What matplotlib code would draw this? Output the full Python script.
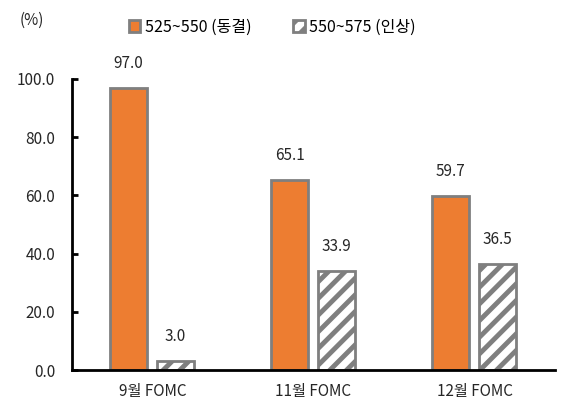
import matplotlib
matplotlib.use("Agg")
import matplotlib.pyplot as plt
import numpy as np

plt.rcParams['font.family'] = ['Noto Sans CJK KR', 'DejaVu Sans']
plt.rcParams['hatch.linewidth'] = 3.5

categories = ['9월 FOMC', '11월 FOMC', '12월 FOMC']
hold_vals = [97.0, 65.1, 59.7]
hike_vals = [3.0, 33.9, 36.5]
series_names = ['525~550 (동결)', '550~575 (인상)']
yticks = [0, 20, 40, 60, 80, 100]

fig = plt.figure(figsize=(5.8, 4.13), dpi=100)
ax = fig.add_axes([0.124, 0.104, 0.833, 0.705])

x = np.arange(len(categories))
w = 0.23
gray = '#7f7f7f'
b1 = ax.bar(x - 0.148, hold_vals, w, color='#ED7D31', edgecolor=gray, linewidth=2, label=series_names[0])
b2 = ax.bar(x + 0.142, hike_vals, w, color='white', edgecolor=gray, linewidth=2, hatch='//', label=series_names[1])

for xi, v in zip(x - 0.148, hold_vals):
    ax.text(xi, v + 5.5, f'{v:.1f}', ha='center', va='bottom', fontsize=11, color='#262626')
for xi, v in zip(x + 0.142, hike_vals):
    ax.text(xi, v + 5.5, f'{v:.1f}', ha='center', va='bottom', fontsize=11, color='#262626')

ax.set_xlim(-0.5, 2.5)
ax.set_ylim(0, 100)
ax.set_yticks(yticks)
ax.set_yticklabels([f'{t:.1f}' for t in yticks], fontsize=11, color='#262626')
ax.set_xticks(x)
ax.set_xticklabels(categories, fontsize=11, color='#262626')
ax.tick_params(axis='y', direction='in', length=4, width=2, pad=12)
ax.tick_params(axis='x', length=0, pad=9)
for s in ['top', 'right']:
    ax.spines[s].set_visible(False)
ax.spines['left'].set_linewidth(2)
ax.spines['bottom'].set_linewidth(2)

fig.text(0.033, 0.95, '(%)', fontsize=11, color='#262626', va='center')
fig.legend(handles=[b1, b2], labels=series_names, loc='center', bbox_to_anchor=(0.47, 0.935),
           ncol=2, frameon=False, fontsize=11.5, handlelength=0.7, handleheight=0.8,
           handletextpad=0.3, columnspacing=2.6)

fig.savefig('out.png', dpi=100)
